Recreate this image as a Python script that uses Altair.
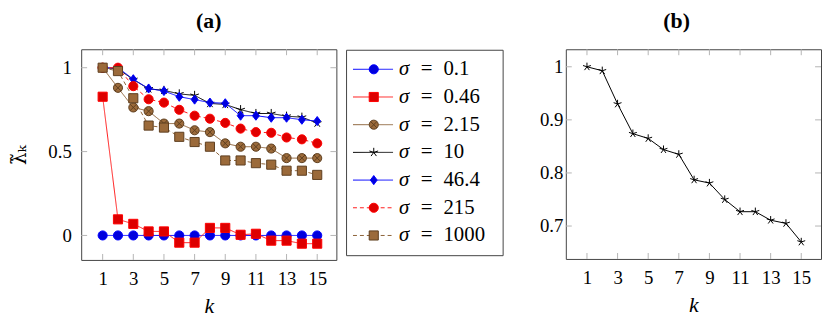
import altair as alt
import pandas as pd

# ---------------- data ----------------
k = list(range(1, 16))
sigma_vals = ["0.1", "0.46", "2.15", "10", "46.4", "215", "1000"]

s_0_1 = [0.0, 0.0, 0.0, 0.0, 0.0, 0.0, 0.0, 0.0, 0.0, 0.0, 0.0, 0.0, 0.0, 0.0, 0.0]
s_0_46 = [0.827, 0.096, 0.069, 0.024, 0.024, -0.043, -0.043, 0.045, 0.045, 0.004, 0.010, -0.031, -0.031, -0.049, -0.049]
s_2_15 = [1.0, 0.880, 0.763, 0.741, 0.667, 0.667, 0.627, 0.616, 0.549, 0.529, 0.529, 0.518, 0.461, 0.461, 0.461]
s_10 = [1.000, 0.9925, 0.930, 0.874, 0.865, 0.844, 0.835, 0.787, 0.781, 0.750, 0.727, 0.727, 0.711, 0.705, 0.670]
s_46_4 = [1.0, 1.0, 0.931, 0.876, 0.861, 0.827, 0.810, 0.792, 0.788, 0.714, 0.714, 0.702, 0.702, 0.690, 0.682]
s_215 = [1.0, 1.0, 0.890, 0.812, 0.792, 0.749, 0.714, 0.696, 0.671, 0.637, 0.616, 0.612, 0.584, 0.573, 0.549]
s_1000 = [1.0, 0.980, 0.818, 0.655, 0.643, 0.588, 0.557, 0.529, 0.447, 0.447, 0.431, 0.422, 0.386, 0.386, 0.361]

# panel (b): sigma = 10
b_vals = [1.000, 0.9925, 0.930, 0.874, 0.865, 0.844, 0.835, 0.787, 0.781, 0.750, 0.727, 0.727, 0.711, 0.705, 0.670]

x_ticks = [1, 3, 5, 7, 9, 11, 13, 15]
y_ticks_a = [0, 0.5, 1]
y_ticks_b = [0.7, 0.8, 0.9, 1]

# ---------------- styles ----------------
FONT = "Liberation Serif"
TICK = "#b4b4b4"
BOX = "#444444"
FS = 19

series_names = ["σ = " + s for s in sigma_vals]
all_vals = [s_0_1, s_0_46, s_2_15, s_10, s_46_4, s_215, s_1000]

line_colors = ["#0000ff", "#ff1a1a", "#8c6239", "#000000", "#0000ff", "#ff1a1a", "#8c6239"]
dashes = [[1, 0], [1, 0], [1, 0], [1, 0], [1, 0], [4, 3], [4, 3]]
fills = ["#0000dd", "#dd0000", "#9b6a3a", "transparent", "#0000dd", "#e00000", "#9b6a3a"]
strokes = ["#0000ff", "#ff0000", "#5e3f1f", "#000000", "#0000ff", "#ff0000", "#5e3f1f"]
STAR = "M0,0L0,-1M0,0L-0.951,-0.309M0,0L-0.588,0.809M0,0L0.588,0.809M0,0L0.951,-0.309"
OTIMES = ("M1,0A1,1,0,1,1,-1,0A1,1,0,1,1,1,0Z"
          "M-0.707,-0.707L0.707,0.707M-0.707,0.707L0.707,-0.707")
DIAMOND = "M0,-1L0.75,0L0,1L-0.75,0Z"
shapes = ["circle", "square", OTIMES, STAR, DIAMOND, "circle", "square"]
sizes = [85, 85, 85, 70, 105, 90, 95]

rows = []
for name, vals in zip(series_names, all_vals):
    for kk, v in zip(k, vals):
        rows.append({"series": name, "k": kk, "v": v})
df = pd.DataFrame(rows)

color_s = alt.Scale(domain=series_names, range=line_colors)
dash_s = alt.Scale(domain=series_names, range=dashes)
fill_s = alt.Scale(domain=series_names, range=fills)
stroke_s = alt.Scale(domain=series_names, range=strokes)
shape_s = alt.Scale(domain=series_names, range=shapes)
size_s = alt.Scale(domain=series_names, range=sizes)

W_A, H_A = 258, 213
W_B, H_B = 258, 212
xs_a = alt.Scale(domain=[-0.4, 16.25], nice=False, zero=False)
ys_a = alt.Scale(domain=[-0.146, 1.110], nice=False, zero=False)
xs_b = alt.Scale(domain=[-0.38, 16.29], nice=False, zero=False)
ys_b = alt.Scale(domain=[0.638, 1.033], nice=False, zero=False)


def x_axis(vals):
    return alt.Axis(values=vals, title="k", titleFont=FONT, titleFontStyle="italic",
                    titleFontWeight="normal", titleFontSize=FS + 3, titlePadding=7,
                    labelFont=FONT, labelFontSize=FS, labelPadding=10, labelColor="black",
                    domain=False, ticks=False, grid=False, labelFlush=False)


def y_axis(vals, title, pad):
    if title:
        return alt.Axis(values=vals, title=title, format="~g", titleFont="DejaVu Serif",
                        titleFontStyle="normal", titleFontWeight="normal", titleFontSize=FS + 1,
                        titlePadding=19, labelFont=FONT, labelFontSize=FS, labelPadding=pad,
                        labelColor="black", domain=False, ticks=False, grid=False,
                        labelFlush=False)
    return alt.Axis(values=vals, title=None, format="~g", labelFont=FONT,
                    labelFontSize=FS, labelPadding=pad, labelColor="black",
                    domain=False, ticks=False, grid=False, labelFlush=False)


def inward_ticks(xv, yv, xs, ys, xax, yax, W, H, L=6):
    xt = alt.Chart(pd.DataFrame({"t": xv})).mark_rule(color=TICK, strokeWidth=1)
    yt = alt.Chart(pd.DataFrame({"t": yv})).mark_rule(color=TICK, strokeWidth=1)
    X = alt.X("t:Q", scale=xs, axis=xax)
    Y = alt.Y("t:Q", scale=ys, axis=yax)
    return [
        xt.encode(x=X, y=alt.value(H), y2=alt.value(H - L)),
        xt.encode(x=X, y=alt.value(0), y2=alt.value(L)),
        yt.encode(y=Y, x=alt.value(0), x2=alt.value(L)),
        yt.encode(y=Y, x=alt.value(W), x2=alt.value(W - L)),
    ]


# ---------------- panel (a) ----------------
xax_a = x_axis(x_ticks)
yax_a = y_axis(y_ticks_a, "λ̃ₖ", 10)
XA = alt.X("k:Q", scale=xs_a, axis=xax_a)
YA = alt.Y("v:Q", scale=ys_a, axis=yax_a)

lines_a = alt.Chart(df).mark_line(strokeWidth=1).encode(
    x=XA, y=YA,
    color=alt.Color("series:N", scale=color_s, legend=None),
    strokeDash=alt.StrokeDash("series:N", scale=dash_s, legend=None),
)
points_a = alt.Chart(df).mark_point(filled=True, opacity=1, strokeWidth=1).encode(
    x=XA, y=YA,
    shape=alt.Shape("series:N", scale=shape_s, legend=None),
    fill=alt.Fill("series:N", scale=fill_s, legend=None),
    stroke=alt.Stroke("series:N", scale=stroke_s, legend=None),
    size=alt.Size("series:N", scale=size_s, legend=None),
    order=alt.Order("order:Q"),
).transform_calculate(order="indexof(" + str(series_names).replace("'", '"') + ", datum.series)")

main_a = alt.layer(lines_a, points_a,
                   *inward_ticks(x_ticks, y_ticks_a, xs_a, ys_a, xax_a, yax_a, W_A, H_A))

# legend drawn beside panel (a)
leg_df = pd.DataFrame({"series": series_names, "idx": list(range(len(series_names))),
                       "val": sigma_vals})
LY = alt.Y("idx:Q", scale=alt.Scale(domain=[-0.723, 6.883], reverse=True, nice=False, zero=False),
           axis=None)
L0 = 268.3
leg_box = alt.Chart(pd.DataFrame({"a": [0]})).mark_rect(
    fill="white", stroke=BOX, strokeWidth=1).encode(
    x=alt.value(L0), x2=alt.value(L0 + 158.3), y=alt.value(1), y2=alt.value(208.7))
leg_rule = alt.Chart(leg_df).mark_rule(strokeWidth=1).encode(
    x=alt.value(L0 + 6.5), x2=alt.value(L0 + 47), y=LY,
    color=alt.Color("series:N", scale=color_s, legend=None),
    strokeDash=alt.StrokeDash("series:N", scale=dash_s, legend=None),
)
leg_pts = alt.Chart(leg_df).mark_point(filled=True, opacity=1, strokeWidth=1).encode(
    x=alt.value(L0 + 27.5), y=LY,
    shape=alt.Shape("series:N", scale=shape_s, legend=None),
    fill=alt.Fill("series:N", scale=fill_s, legend=None),
    stroke=alt.Stroke("series:N", scale=stroke_s, legend=None),
    size=alt.Size("series:N", scale=size_s, legend=None),
)
leg_sig = alt.Chart(leg_df).mark_text(
    text="σ", font=FONT, fontStyle="italic", fontSize=FS + 2, align="left",
    baseline="middle", color="black").encode(x=alt.value(L0 + 53), y=LY)
leg_eq = alt.Chart(leg_df).mark_text(
    text="=", font=FONT, fontSize=FS + 2, align="left",
    baseline="middle", color="black").encode(x=alt.value(L0 + 75), y=LY)
leg_val = alt.Chart(leg_df).mark_text(
    font=FONT, fontSize=FS + 2, align="left", baseline="middle", color="black").encode(
    x=alt.value(L0 + 98), y=LY, text="val:N")
legend_a = alt.layer(leg_box, leg_rule, leg_pts, leg_sig, leg_eq, leg_val)

panel_a = alt.layer(main_a, legend_a).resolve_scale(y="independent").properties(
    width=W_A, height=H_A,
    title=alt.TitleParams("(a)", font=FONT, fontSize=FS + 3, fontWeight="bold",
                          anchor="middle", frame="group", offset=16, color="black"),
)

# ---------------- panel (b) ----------------
df_b = pd.DataFrame({"k": k, "v": b_vals})
xax_b = x_axis(x_ticks)
yax_b = y_axis(y_ticks_b, None, 3)
XB = alt.X("k:Q", scale=xs_b, axis=xax_b)
YB = alt.Y("v:Q", scale=ys_b, axis=yax_b)
line_b = alt.Chart(df_b).mark_line(strokeWidth=1, color="black").encode(x=XB, y=YB)
pts_b = alt.Chart(df_b).mark_point(shape=STAR, size=70, filled=False, stroke="black",
                                   strokeWidth=1, opacity=1).encode(x=XB, y=YB)
panel_b = alt.layer(line_b, pts_b,
                    *inward_ticks(x_ticks, y_ticks_b, xs_b, ys_b, xax_b, yax_b, W_B, H_B)
                    ).properties(
    width=W_B, height=H_B,
    title=alt.TitleParams("(b)", font=FONT, fontSize=FS + 3, fontWeight="bold",
                          anchor="middle", frame="group", offset=16, dx=-17, color="black"),
)

chart = alt.hconcat(panel_a, panel_b, spacing=34).properties(
    padding={"left": 0, "top": 0, "right": 0, "bottom": 0}
).configure_view(stroke=BOX, strokeWidth=1)

chart.save("out.html", embed_options={"renderer": "svg", "actions": False})
